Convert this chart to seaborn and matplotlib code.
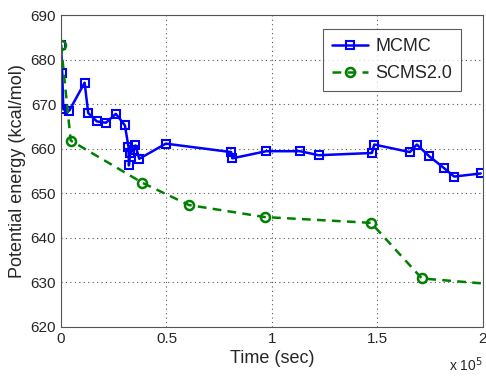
import pandas as pd
import numpy as np
import seaborn as sns
import matplotlib.pyplot as plt

# time in units of 1e5 sec
mcmc_time = [0.0, 0.006, 0.011, 0.039, 0.112, 0.129, 0.170, 0.213, 0.260, 0.303,
             0.320, 0.322, 0.328, 0.342, 0.353, 0.371, 0.497, 0.807, 0.812, 0.973,
             1.134, 1.221, 1.474, 1.485, 1.654, 1.687, 1.745, 1.816, 1.864, 1.99]
mcmc_energy = [683.4, 677.0, 668.9, 668.6, 674.9, 668.1, 666.2, 665.9, 667.9, 665.3,
               660.5, 656.3, 659.1, 659.7, 660.8, 657.8, 661.2, 659.3, 657.9, 659.5,
               659.5, 658.6, 659.1, 661.0, 659.3, 661.0, 658.4, 655.7, 653.8, 654.5]
scms_time = [0.0, 0.046, 0.386, 0.607, 0.966, 1.470, 1.711, 2.1]
scms_energy = [683.4, 661.9, 652.4, 647.4, 644.7, 643.4, 630.9, 629.4]

sns.set_style("white")
plt.rcParams['font.family'] = ['Liberation Sans', 'DejaVu Sans']

mcmc = pd.DataFrame({'t': mcmc_time, 'e': mcmc_energy})
scms = pd.DataFrame({'t': scms_time, 'e': scms_energy})

fig = plt.figure(figsize=(4.86, 3.78), dpi=100)
ax = fig.add_axes([0.1255, 0.135, 0.868, 0.824])

sns.lineplot(data=mcmc, x='t', y='e', ax=ax, sort=False, estimator=None,
             color='#0000ff', lw=1.8, marker='s', ms=5.5, mfc='none', mec='#0000ff',
             mew=1.5, label='MCMC')
sns.lineplot(data=scms, x='t', y='e', ax=ax, sort=False, estimator=None,
             color='#008000', lw=1.8, ls='--', marker='o', ms=6.5, mfc='none',
             mec='#008000', mew=1.8, label='SCMS2.0', dashes=False)
ax.lines[-1].set_linestyle((0, (3.5, 2.5)))

ax.set_xlim(0, 2)
ax.set_ylim(620, 690)
ax.set_xticks([0, 0.5, 1, 1.5, 2])
ax.set_xticklabels(['0', '0.5', '1', '1.5', '2'])
ax.set_yticks(range(620, 691, 10))
ax.tick_params(direction='in', labelsize=11, length=4, color='#444444')
ax.grid(True, ls=(0, (1, 3)), color='#555555', lw=0.8)
for s in ax.spines.values():
    s.set_color('#555555')
    s.set_linewidth(0.8)

ax.set_xlabel('Time (sec)', fontsize=13, labelpad=3)
ax.set_ylabel('Potential energy (kcal/mol)', fontsize=13, labelpad=3)
ax.text(1.0, -0.09, r'x 10$^5$', transform=ax.transAxes, ha='right', va='top',
        fontsize=10)

leg = ax.legend(loc='upper right', bbox_to_anchor=(0.97, 0.985), fontsize=13,
                frameon=True, fancybox=False, handlelength=2.0, borderpad=0.5,
                labelspacing=0.55, handletextpad=0.4)
leg.get_frame().set_edgecolor('#333333')
leg.get_frame().set_linewidth(0.8)

plt.savefig('out.png', dpi=100)
